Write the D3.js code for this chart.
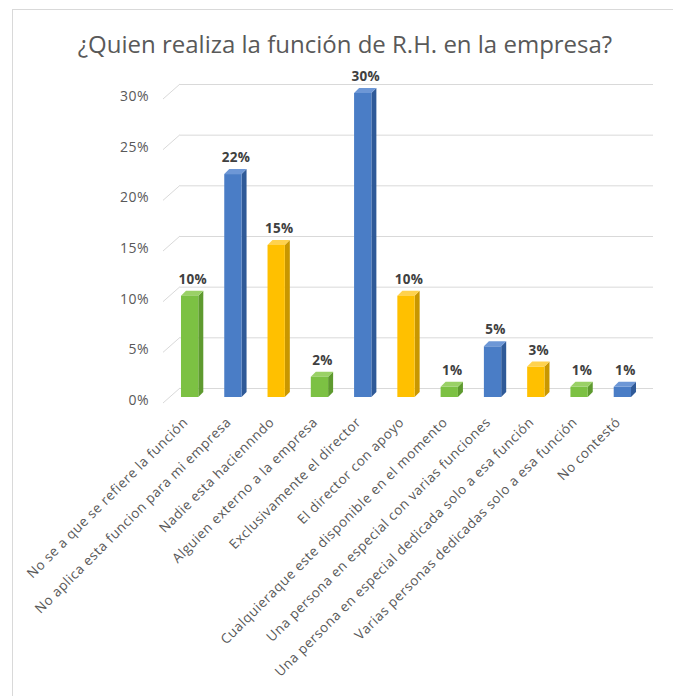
<!DOCTYPE html>
<html>
<head>
<meta charset="utf-8">
<script src="https://cdn.jsdelivr.net/npm/d3@7"></script>
<style>
  html, body { margin: 0; padding: 0; background: #fff; }
  svg { display: block; }
</style>
</head>
<body>
<div id="chart"></div>
<script>
// Who performs the HR function in the company (share of responses)
const categories = [
  "No se a que se refiere la función",
  "No aplica esta funcion para mi empresa",
  "Nadie esta haciennndo",
  "Alguien externo a la empresa",
  "Exclusivamente el director",
  "El director con apoyo",
  "Cualquieraque este disponible en el momento",
  "Una persona en especial con varias funciones",
  "Una persona en especial dedicada solo a esa función",
  "Varias personas dedicadas solo a esa función",
  "No contestó"
];
const values = [10, 22, 15, 2, 30, 10, 1, 5, 3, 1, 1];
const valueLabels = ["10%", "22%", "15%", "2%", "30%", "10%", "1%", "5%", "3%", "1%", "1%"];
const colorKeys = ["green", "blue", "yellow", "green", "blue", "yellow", "green", "blue", "yellow", "green", "blue"];
const yTicks = [0, 5, 10, 15, 20, 25, 30];
const yTickLabels = ["0%", "5%", "10%", "15%", "20%", "25%", "30%"];
const titleText = "¿Quien realiza la función de R.H. en la empresa?";

const W = 673, H = 696;
const FONT = "'Open Sans', sans-serif";
const palette = {
  green:  { front: "#7cc143", side: "#5e9a2f", top: "#9ad166" },
  blue:   { front: "#4a7dc6", side: "#2f5a98", top: "#6d97d6" },
  yellow: { front: "#ffc000", side: "#c99700", top: "#ffd24d" }
};

const svg = d3.select("#chart").append("svg")
  .attr("width", W).attr("height", H);

// chart frame
svg.append("rect")
  .attr("x", 12.5).attr("y", 9.5)
  .attr("width", 670).attr("height", 690)
  .attr("fill", "#fff").attr("stroke", "#d9d9d9");

svg.append("text")
  .attr("x", 345).attr("y", 53)
  .attr("text-anchor", "middle")
  .attr("font-family", FONT)
  .attr("font-size", 24)
  .attr("fill", "#595959")
  .text(titleText);

// front plane of the columns and the back wall offset for the 3D look
const y = d3.scaleLinear().domain([0, 30]).range([397, 93]);
const x = d3.scaleBand().domain(categories).range([168, 644]).paddingInner(0.6).paddingOuter(0.3);
const depth = 9;     // offset from column front to back wall
const barDepth = 5;  // depth of each column

// gridlines: slanted segment on the side wall, then along the back wall
const grid = svg.append("g");
yTicks.forEach(t => {
  const yb = y(t) - depth;
  grid.append("line")
    .attr("x1", 163).attr("y1", yb + 15)
    .attr("x2", 180).attr("y2", yb)
    .attr("stroke", "#d9d9d9").attr("stroke-width", 1);
  grid.append("line")
    .attr("x1", 180).attr("y1", yb + 0.5)
    .attr("x2", 653).attr("y2", yb + 0.5)
    .attr("stroke", "#d9d9d9").attr("stroke-width", 1);
});

// y axis labels
const yAxis = d3.axisLeft(y).tickValues(yTicks)
  .tickFormat((d, i) => yTickLabels[i]).tickSize(0).tickPadding(0);
const yAxisG = svg.append("g").attr("transform", "translate(149,3)").call(yAxis);
yAxisG.select(".domain").remove();
yAxisG.selectAll("text")
  .attr("font-family", FONT)
  .attr("font-size", 14)
  .attr("letter-spacing", 0.5)
  .attr("fill", "#595959");

// 3D columns
const bars = svg.append("g");
categories.forEach((c, i) => {
  const x0 = x(c), w = x.bandwidth();
  const yt = y(values[i]), yb = y(0);
  const col = palette[colorKeys[i]];
  const d = barDepth;
  bars.append("polygon")
    .attr("points", [[x0 + w, yt], [x0 + w + d, yt - d], [x0 + w + d, yb - d], [x0 + w, yb]].join(" "))
    .attr("fill", col.side);
  bars.append("polygon")
    .attr("points", [[x0, yt], [x0 + w, yt], [x0 + w + d, yt - d], [x0 + d, yt - d]].join(" "))
    .attr("fill", col.top);
  bars.append("rect")
    .attr("x", x0).attr("y", yt)
    .attr("width", w).attr("height", yb - yt)
    .attr("fill", col.front);
  bars.append("text")
    .attr("x", x0 + w / 2 + 3).attr("y", yt - 12)
    .attr("text-anchor", "middle")
    .attr("font-family", FONT)
    .attr("font-size", 13.5)
    .attr("font-weight", "bold")
    .attr("letter-spacing", 0.3)
    .attr("fill", "#404040")
    .text(valueLabels[i]);
});

// rotated category labels
const xAxis = svg.append("g");
categories.forEach(c => {
  const cx = x(c) + x.bandwidth() / 2;
  xAxis.append("text")
    .attr("transform", `translate(${cx - 1},${423}) rotate(-45)`)
    .attr("text-anchor", "end")
    .attr("font-family", FONT)
    .attr("font-size", 13.5)
    .attr("letter-spacing", 0.55)
    .attr("fill", "#595959")
    .text(c);
});
</script>
</body>
</html>
